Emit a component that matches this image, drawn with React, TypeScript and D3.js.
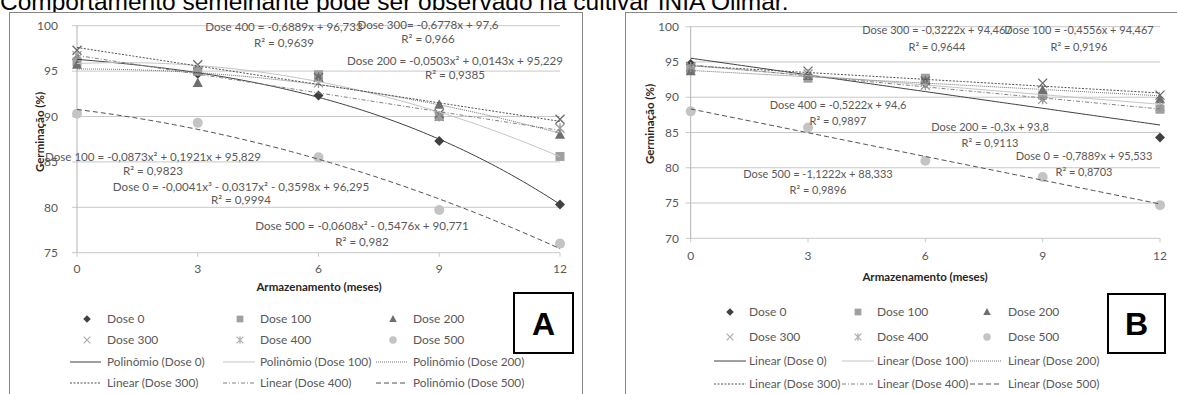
import React from "react";
import * as d3 from "d3";

// ---------- data ----------
const MONTHS = [0, 3, 6, 9, 12];
const SERIES_NAMES = ["Dose 0", "Dose 100", "Dose 200", "Dose 300", "Dose 400", "Dose 500"];

// Panel A observed germination (%)
const A_DOSE0 = [96.3, 94.7, 92.3, 87.3, 80.3];
const A_DOSE100 = [96.0, 95.0, 94.6, 90.0, 85.6];
const A_DOSE200 = [95.7, 93.7, 94.3, 91.3, 88.0];
const A_DOSE300 = [97.3, 95.7, 94.3, 90.3, 89.7];
const A_DOSE400 = [96.7, 95.0, 93.7, 90.0, 88.7];
const A_DOSE500 = [90.3, 89.3, 85.5, 79.7, 76.0];

// Panel A trendline coefficients (ascending powers), as printed
const A_FIT0 = [96.295, -0.3598, -0.0317, -0.0041];
const A_FIT100 = [95.829, 0.1921, -0.0873];
const A_FIT200 = [95.229, 0.0143, -0.0503];
const A_FIT300 = [97.6, -0.6778];
const A_FIT400 = [96.733, -0.6889];
const A_FIT500 = [90.771, -0.5476, -0.0608];

const A_EQ = [
  "Dose 0 = -0,0041x³ - 0,0317x² - 0,3598x + 96,295",
  "Dose 100 = -0,0873x² + 0,1921x + 95,829",
  "Dose 200 = -0,0503x² + 0,0143x + 95,229",
  "Dose 300= -0,6778x + 97,6",
  "Dose 400 = -0,6889x + 96,733",
  "Dose 500 = -0,0608x² - 0,5476x + 90,771",
];
const A_R2 = ["R² = 0,9994", "R² = 0,9823", "R² = 0,9385", "R² = 0,966", "R² = 0,9639", "R² = 0,982"];
const A_TREND_NAMES = [
  "Polinômio (Dose 0)", "Polinômio (Dose 100)", "Polinômio (Dose 200)",
  "Linear (Dose 300)", "Linear (Dose 400)", "Polinômio (Dose 500)",
];
const A_YTICKS = [75, 80, 85, 90, 95, 100];

// Panel B observed germination (%)
const B_DOSE0 = [94.7, 93.0, 92.0, 90.0, 84.3];
const B_DOSE100 = [94.0, 92.7, 92.7, 90.3, 88.3];
const B_DOSE200 = [93.7, 93.0, 92.3, 91.0, 89.7];
const B_DOSE300 = [94.3, 93.7, 92.3, 92.0, 90.3];
const B_DOSE400 = [94.3, 93.3, 91.7, 89.7, 88.7];
const B_DOSE500 = [88.0, 85.7, 81.0, 78.7, 74.7];

const B_FIT0 = [95.533, -0.7889];
const B_FIT100 = [94.467, -0.4556];
const B_FIT200 = [93.8, -0.3];
const B_FIT300 = [94.467, -0.3222];
const B_FIT400 = [94.6, -0.5222];
const B_FIT500 = [88.333, -1.1222];

const B_EQ = [
  "Dose 0 = -0,7889x + 95,533",
  "Dose 100 = -0,4556x + 94,467",
  "Dose 200 = -0,3x + 93,8",
  "Dose 300 = -0,3222x + 94,467",
  "Dose 400 = -0,5222x + 94,6",
  "Dose 500 = -1,1222x + 88,333",
];
const B_R2 = ["R² = 0,8703", "R² = 0,9196", "R² = 0,9113", "R² = 0,9644", "R² = 0,9897", "R² = 0,9896"];
const B_TREND_NAMES = [
  "Linear (Dose 0)", "Linear (Dose 100)", "Linear (Dose 200)",
  "Linear (Dose 300)", "Linear (Dose 400)", "Linear (Dose 500)",
];
const B_YTICKS = [70, 75, 80, 85, 90, 95, 100];

const X_TITLE = "Armazenamento (meses)";
const Y_TITLE = "Germinação (%)";
const TITLE = "Comportamento semelhante pode ser observado na cultivar INIA Olimar.";

// ---------- styles ----------
const FONT = "Lato, 'Open Sans', sans-serif";
const TXT = "#595959";
const MARKER_COLORS = ["#404040", "#a0a0a0", "#6f6f6f", "#6a6a6a", "#9a9a9a", "#c4c4c4"];
const LEGEND_MARKER_COLORS = ["#404040", "#a0a0a0", "#6f6f6f", "#b0b0b0", "#b0b0b0", "#c4c4c4"];
const TREND_STYLES = [
  { stroke: "#404040", dash: "none", w: 1 },
  { stroke: "#c4c4c4", dash: "none", w: 1 },
  { stroke: "#707070", dash: "1,1", w: 1 },
  { stroke: "#505050", dash: "2,1.5", w: 1 },
  { stroke: "#808080", dash: "4,2,1,2", w: 1 },
  { stroke: "#505050", dash: "5,3", w: 1 },
];

function polyVal(c: number[], x: number) {
  return c.reduce((s, k, i) => s + k * Math.pow(x, i), 0);
}

function Marker({ kind, x, y, color, s = 1 }: { kind: number; x: number; y: number; color: string; s?: number }) {
  switch (kind) {
    case 0:
      return <path d={`M${x},${y - 5 * s}L${x + 5 * s},${y}L${x},${y + 5 * s}L${x - 5 * s},${y}Z`} fill={color} />;
    case 1:
      return <rect x={x - 4.5 * s} y={y - 4.5 * s} width={9 * s} height={9 * s} fill={color} />;
    case 2:
      return <path d={`M${x},${y - 5.5 * s}L${x + 5 * s},${y + 4 * s}L${x - 5 * s},${y + 4 * s}Z`} fill={color} />;
    case 3:
      return (
        <path
          d={`M${x - 4.5 * s},${y - 4.5 * s}L${x + 4.5 * s},${y + 4.5 * s}M${x + 4.5 * s},${y - 4.5 * s}L${x - 4.5 * s},${y + 4.5 * s}`}
          stroke={color}
          strokeWidth={1.3}
          fill="none"
        />
      );
    case 4:
      return (
        <path
          d={`M${x - 4.5 * s},${y - 4.5 * s}L${x + 4.5 * s},${y + 4.5 * s}M${x + 4.5 * s},${y - 4.5 * s}L${x - 4.5 * s},${y + 4.5 * s}M${x},${y - 5 * s}L${x},${y + 5 * s}`}
          stroke={color}
          strokeWidth={1.3}
          fill="none"
        />
      );
    default:
      return <circle cx={x} cy={y} r={5 * s} fill={color} />;
  }
}

type Label = { x: number; y: number; gap: number };

type PanelProps = {
  series: number[][];
  fits: number[][];
  eqs: string[];
  r2s: string[];
  trendNames: string[];
  yTicks: number[];
  x0: number;
  x1: number;
  yTop: number;
  yBot: number;
  yLabelX: number;
  xLabelY: number;
  xTitleX: number;
  xTitleY: number;
  yTitleX: number;
  yTitleY: number;
  eqFont: number;
  labels: Label[];
  legRows: number[];
  legMarkerX: number[];
  legTextX: number[];
  legLine: number[][];
  box: { x: number; y: number; w: number; h: number; t: string };
};

function Panel(p: PanelProps) {
  const xs = d3.scaleLinear().domain([0, 12]).range([p.x0, p.x1]);
  const ys = d3
    .scaleLinear()
    .domain([p.yTicks[0], p.yTicks[p.yTicks.length - 1]])
    .range([p.yBot, p.yTop]);
  const grid = d3.range(0, 12.0001, 0.1);
  return (
    <g fontFamily={FONT}>
      {p.yTicks.slice(1).map((t) => (
        <line key={t} x1={p.x0 - 5} x2={p.x1} y1={ys(t)} y2={ys(t)} stroke="#c8c8c8" strokeWidth={1} />
      ))}
      <line x1={p.x0 - 5} x2={p.x1} y1={p.yBot} y2={p.yBot} stroke="#c8c8c8" />
      <line x1={p.x0} x2={p.x0} y1={p.yTop} y2={p.yBot} stroke="#b4b4b4" />
      {MONTHS.map((m) => (
        <line key={m} x1={xs(m)} x2={xs(m)} y1={p.yBot} y2={p.yBot + 4} stroke="#c8c8c8" />
      ))}
      {p.yTicks.map((t) => (
        <text key={t} x={p.yLabelX} y={ys(t)} dy="0.35em" textAnchor="end" fontSize={12} fill={TXT}>
          {t}
        </text>
      ))}
      {MONTHS.map((m) => (
        <text key={m} x={xs(m)} y={p.xLabelY} dy="0.35em" textAnchor="middle" fontSize={12} fill={TXT}>
          {m}
        </text>
      ))}
      <text x={p.xTitleX} y={p.xTitleY} dy="0.35em" textAnchor="middle" fontSize={11.5} fontWeight="bold" fill="#262626">
        {X_TITLE}
      </text>
      <text
        transform={`translate(${p.yTitleX},${p.yTitleY}) rotate(-90)`}
        dy="0.35em"
        textAnchor="middle"
        fontSize={11.5}
        fontWeight="bold"
        fill="#262626"
      >
        {Y_TITLE}
      </text>
      {p.series.map((vals, si) =>
        vals.map((v, i) => (
          <Marker key={`${si}-${i}`} kind={si} x={xs(MONTHS[i])} y={ys(v)} color={MARKER_COLORS[si]} />
        ))
      )}
      {p.fits.map((c, si) => {
        const st = TREND_STYLES[si];
        const path = d3
          .line<number>()
          .x((x) => xs(x))
          .y((x) => ys(polyVal(c, x)))(grid) as string;
        return (
          <path key={si} d={path} fill="none" stroke={st.stroke} strokeWidth={st.w} strokeDasharray={st.dash} />
        );
      })}
      {p.labels.map((l, i) => (
        <g key={i} fontSize={p.eqFont} fill={TXT} textAnchor="middle">
          <text x={l.x} y={l.y} dy="0.35em">
            {p.eqs[i]}
          </text>
          <text x={l.x} y={l.y + l.gap} dy="0.35em">
            {p.r2s[i]}
          </text>
        </g>
      ))}
      {SERIES_NAMES.map((n, i) => {
        const row = Math.floor(i / 3);
        const col = i % 3;
        return (
          <g key={n}>
            <Marker kind={i} x={p.legMarkerX[col]} y={p.legRows[row]} color={LEGEND_MARKER_COLORS[i]} s={0.75} />
            <text x={p.legTextX[col]} y={p.legRows[row]} dy="0.35em" fontSize={12} fill={TXT}>
              {n}
            </text>
          </g>
        );
      })}
      {p.trendNames.map((n, i) => {
        const row = 2 + Math.floor(i / 3);
        const col = i % 3;
        const st = TREND_STYLES[i];
        return (
          <g key={n}>
            <line
              x1={p.legLine[col][0]}
              x2={p.legLine[col][1]}
              y1={p.legRows[row]}
              y2={p.legRows[row]}
              stroke={st.stroke}
              strokeWidth={st.w}
              strokeDasharray={st.dash}
            />
            <text x={p.legTextX[col]} y={p.legRows[row]} dy="0.35em" fontSize={11.8} fill={TXT}>
              {n}
            </text>
          </g>
        );
      })}
      <rect x={p.box.x} y={p.box.y} width={p.box.w} height={p.box.h} fill="white" stroke="#000" strokeWidth={2} />
      <text
        x={p.box.x + p.box.w / 2}
        y={p.box.y + p.box.h / 2}
        dy="0.36em"
        textAnchor="middle"
        fontFamily="'Liberation Sans', Arial, sans-serif"
        fontWeight="bold"
        fontSize={32}
        fill="#000"
      >
        {p.box.t}
      </text>
    </g>
  );
}

export default function App() {
  return (
    <svg
      width={1177}
      height={394}
      style={{ position: "absolute", left: 0, top: 0, background: "#fff" }}
    >
      <rect width={1177} height={394} fill="#fff" />
      <text x={0} y={10} fontFamily="'Liberation Sans', Arial, sans-serif" fontSize={24.5} fill="#000">
        {TITLE}
      </text>
      <rect x={9.5} y={12.5} width={573} height={400} fill="#fff" stroke="#868686" />
      <rect x={625.5} y={12.5} width={560} height={400} fill="#fff" stroke="#868686" />
      <Panel
        series={[A_DOSE0, A_DOSE100, A_DOSE200, A_DOSE300, A_DOSE400, A_DOSE500]}
        fits={[A_FIT0, A_FIT100, A_FIT200, A_FIT300, A_FIT400, A_FIT500]}
        eqs={A_EQ}
        r2s={A_R2}
        trendNames={A_TREND_NAMES}
        yTicks={A_YTICKS}
        x0={77}
        x1={560}
        yTop={25.7}
        yBot={252.7}
        yLabelX={58}
        xLabelY={269}
        xTitleX={319}
        xTitleY={287}
        yTitleX={40}
        yTitleY={132}
        eqFont={11.6}
        labels={[
          { x: 241, y: 187, gap: 13 },
          { x: 153, y: 157, gap: 14 },
          { x: 455, y: 61, gap: 14 },
          { x: 428, y: 25, gap: 13.5 },
          { x: 284, y: 27, gap: 15.5 },
          { x: 362, y: 226, gap: 16 },
        ]}
        legRows={[319, 340, 362, 383]}
        legMarkerX={[87, 240, 393]}
        legTextX={[107, 260, 413]}
        legLine={[[70, 101], [223, 255], [376, 408]]}
        box={{ x: 514, y: 293, w: 59, h: 60, t: "A" }}
      />
      <Panel
        series={[B_DOSE0, B_DOSE100, B_DOSE200, B_DOSE300, B_DOSE400, B_DOSE500]}
        fits={[B_FIT0, B_FIT100, B_FIT200, B_FIT300, B_FIT400, B_FIT500]}
        eqs={B_EQ}
        r2s={B_R2}
        trendNames={B_TREND_NAMES}
        yTicks={B_YTICKS}
        x0={690.7}
        x1={1160}
        yTop={26.7}
        yBot={238.3}
        yLabelX={679}
        xLabelY={256}
        xTitleX={925}
        xTitleY={277}
        yTitleX={650}
        yTitleY={124}
        eqFont={11}
        labels={[
          { x: 1084, y: 155.7, gap: 16 },
          { x: 1079, y: 30, gap: 16.7 },
          { x: 990, y: 126.7, gap: 16 },
          { x: 937, y: 30, gap: 16.7 },
          { x: 838, y: 105, gap: 16 },
          { x: 818, y: 174.3, gap: 15.7 },
        ]}
        legRows={[312, 337, 361, 384]}
        legMarkerX={[730, 858, 987]}
        legTextX={[749, 877, 1008]}
        legLine={[[714, 746], [842, 874], [970, 1002]]}
        box={{ x: 1108, y: 294, w: 57, h: 59, t: "B" }}
      />
    </svg>
  );
}
